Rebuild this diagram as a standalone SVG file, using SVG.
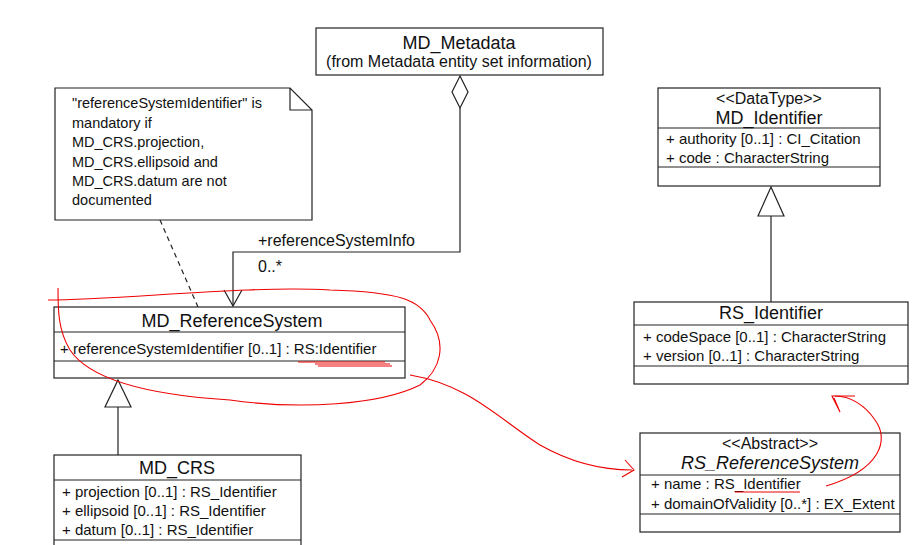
<svg xmlns="http://www.w3.org/2000/svg" width="923" height="545" viewBox="0 0 923 545">
<style>
.b{fill:#fff;stroke:#222;stroke-width:1.2}
.l{fill:none;stroke:#222;stroke-width:1.2}
.t{font-family:"Liberation Sans",Arial,sans-serif;fill:#111}
.n{font-size:18px;text-anchor:middle}
.s{font-size:16px;text-anchor:middle}
.a{font-size:15px}
.m{font-size:14.5px}
.r{fill:none;stroke:#e00;stroke-width:1.1}
</style>
<rect width="923" height="545" fill="#fff"/>
<g id="connectors">
<polygon class="b" points="460,76 468,92 460,108 452,92"/>
<polyline class="l" points="460,108 460,252 233,252 233,306"/>
<polyline class="l" points="224,290 233,306 242,290"/>
<text class="t" font-size="16" x="258" y="246">+referenceSystemInfo</text>
<text class="t" font-size="16" x="258" y="272">0..*</text>
<line class="l" x1="160" y1="220" x2="198" y2="307" stroke-dasharray="5,4"/>
<line class="l" x1="118" y1="407" x2="118" y2="455"/>
<polygon class="b" points="118,380 131,407 105,407"/>
<line class="l" x1="771" y1="216" x2="771" y2="302"/>
<polygon class="b" points="771,187 784,216 758,216"/>
</g>
<g id="MD_Metadata">
<rect class="b" x="316" y="28" width="287" height="47"/>
<text class="t n" x="459" y="49">MD_Metadata</text>
<text class="t" font-size="16" x="459" y="67" text-anchor="middle">(from Metadata entity set information)</text>
</g>
<g id="note">
<path class="b" d="M55,88 H290 L312,110 V220 H55 Z"/>
<path class="l" d="M290,88 V110 H312"/>
<text class="t m" x="72" y="108">"referenceSystemIdentifier" is</text>
<text class="t m" x="72" y="128">mandatory if</text>
<text class="t m" x="72" y="147">MD_CRS.projection,</text>
<text class="t m" x="72" y="167">MD_CRS.ellipsoid and</text>
<text class="t m" x="72" y="186">MD_CRS.datum are not</text>
<text class="t m" x="72" y="205">documented</text>
</g>
<g id="MD_ReferenceSystem">
<rect class="b" x="54" y="307" width="351" height="71"/>
<line class="l" x1="54" y1="332" x2="405" y2="332"/>
<line class="l" x1="54" y1="361" x2="405" y2="361"/>
<text class="t n" x="232" y="327">MD_ReferenceSystem</text>
<text class="t a" x="60" y="354">+ referenceSystemIdentifier [0..1] : RS:Identifier</text>
</g>
<g id="MD_CRS">
<rect class="b" x="54" y="455" width="247" height="100"/>
<line class="l" x1="54" y1="480" x2="301" y2="480"/>
<line class="l" x1="54" y1="540" x2="301" y2="540"/>
<text class="t n" x="177" y="474">MD_CRS</text>
<text class="t a" x="62" y="497">+ projection [0..1] : RS_Identifier</text>
<text class="t a" x="62" y="516">+ ellipsoid [0..1] : RS_Identifier</text>
<text class="t a" x="62" y="535">+ datum [0..1] : RS_Identifier</text>
</g>
<g id="MD_Identifier">
<rect class="b" x="658" y="88" width="222" height="98"/>
<line class="l" x1="658" y1="128" x2="880" y2="128"/>
<line class="l" x1="658" y1="167" x2="880" y2="167"/>
<text class="t s" x="769" y="104">&lt;&lt;DataType&gt;&gt;</text>
<text class="t n" x="769" y="124">MD_Identifier</text>
<text class="t a" x="666" y="144">+ authority [0..1] : CI_Citation</text>
<text class="t a" x="666" y="163">+ code : CharacterString</text>
</g>
<g id="RS_Identifier">
<rect class="b" x="634" y="302" width="274" height="82"/>
<line class="l" x1="634" y1="325" x2="908" y2="325"/>
<line class="l" x1="634" y1="366" x2="908" y2="366"/>
<text class="t n" x="771" y="319">RS_Identifier</text>
<text class="t a" x="643" y="342">+ codeSpace [0..1] : CharacterString</text>
<text class="t a" x="643" y="361">+ version [0..1] : CharacterString</text>
</g>
<g id="RS_ReferenceSystem">
<rect class="b" x="640" y="433" width="260" height="99"/>
<line class="l" x1="640" y1="475" x2="900" y2="475"/>
<line class="l" x1="640" y1="514" x2="900" y2="514"/>
<text class="t s" x="770" y="449">&lt;&lt;Abstract&gt;&gt;</text>
<text class="t n" x="770" y="469" font-style="italic">RS_ReferenceSystem</text>
<text class="t a" x="651" y="489">+ name : RS_Identifier</text>
<text class="t a" x="651" y="509">+ domainOfValidity [0..*] : EX_Extent</text>
</g>
<g id="annotations">
<path class="r" d="M48,300 C120,300 250,285 330,290 C400,292 420,300 430,320 C448,345 440,370 420,385 C380,405 300,410 230,400 C150,395 90,380 70,350 C58,330 58,310 58,288"/>
<path class="r" d="M298,362 H385 M315,364 H390 M318,366 H392"/>
<path class="r" d="M410,375 C470,385 500,420 540,445 C570,462 600,470 632,470"/>
<path class="r" d="M625,460 L634,470 L622,477"/>
<path class="r" d="M735,492 H800"/>
<path class="r" d="M826,486 C880,470 890,440 875,420 C865,405 850,396 835,396"/>
<path class="r" d="M855,396 H832 L840,412 L834,398"/>
</g>
</svg>
